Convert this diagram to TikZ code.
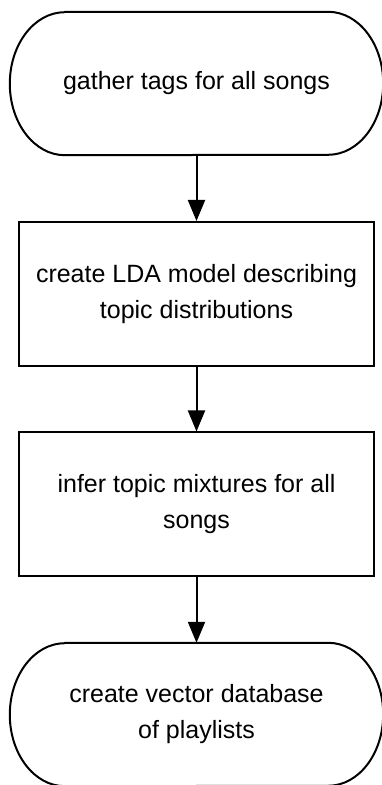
\documentclass[tikz,border=0pt]{standalone}
\usepackage{fontspec}
\setmainfont{Liberation Sans}
\usetikzlibrary{arrows.meta}
\tikzset{
  lab/.style={text=black, align=center, font=\fontsize{25}{36}\selectfont},
  proc/.style={lab, draw=black, line width=2pt, inner sep=0pt, minimum width=355pt, minimum height=144pt},
  term/.style={lab, inner sep=0pt, minimum width=373pt, minimum height=143pt},
  termline/.style={draw=black, line width=2pt, line join=round},
  flow/.style={draw=black, line width=2pt, -{Triangle[length=21pt,width=17pt]}}
}
\begin{document}
\begin{tikzpicture}[x=1pt,y=1pt]
  \useasboundingbox (0,0) rectangle (381,785);
  \def\rx{55}
  \def\ry{71.5}
  \node[term] (gather) at (196.5,701.5) {gather tags for all songs};
  \node[proc] (lda) at (196.5,491) {create LDA model describing\\topic distributions};
  \node[proc] (infer) at (196.5,280.5) {infer topic mixtures for all\\songs};
  \node[term] (vecdb) at (196.5,70.5) {create vector database\\of playlists};
  % start and end shapes with elliptic ends
  \foreach \n in {gather,vecdb}
    \draw[termline] ([xshift=\rx pt]\n.north west) -- ([xshift=-\rx pt]\n.north east)
      arc[start angle=90, end angle=-90, x radius=\rx pt, y radius=\ry pt]
      -- ([xshift=\rx pt]\n.south west)
      arc[start angle=270, end angle=90, x radius=\rx pt, y radius=\ry pt] -- cycle;
  \draw[flow] (gather) -- (lda);
  \draw[flow] (lda) -- (infer);
  \draw[flow] (infer) -- (vecdb);
\end{tikzpicture}
\end{document}
